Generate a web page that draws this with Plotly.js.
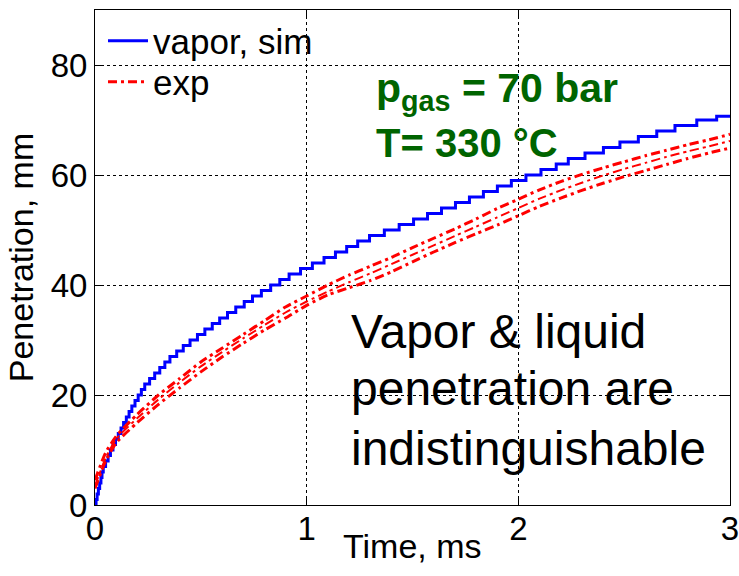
<!DOCTYPE html>
<html>
<head>
<meta charset="utf-8">
<script src="https://cdn.plot.ly/plotly-3.0.1.min.js"></script>
<style>html,body{margin:0;padding:0;background:#fff;}#chart{width:739px;height:576px;}</style>
</head>
<body>
<div id="chart"></div>
<script>
// Blue simulated vapor penetration: step times (ms) and levels (mm)
const simTime = [0, 0.005, 0.010, 0.016, 0.022, 0.028, 0.033, 0.039, 0.050, 0.062, 0.073, 0.085,
  0.097, 0.110, 0.123, 0.135, 0.148, 0.161, 0.174, 0.189, 0.204, 0.219, 0.235,
  0.258, 0.282, 0.306, 0.330, 0.354, 0.386, 0.417, 0.449, 0.484, 0.519, 0.554, 0.589,
  0.626, 0.665, 0.705, 0.744, 0.786, 0.830, 0.873, 0.917, 0.971, 1.027, 1.082,
  1.136, 1.189, 1.241, 1.297, 1.367, 1.437, 1.505, 1.571, 1.637, 1.703, 1.769, 1.835,
  1.901, 1.967, 2.036, 2.107, 2.179, 2.236, 2.315, 2.402, 2.480, 2.567, 2.654, 2.740,
  2.843, 2.937, 3.0];
const simPen = [0, 1, 2, 3, 4, 5, 6, 7, 8, 9, 10, 11, 12, 13, 14, 15, 16, 17, 18, 19, 20, 21, 22,
  23, 24, 25, 26, 27, 28, 29, 30, 31, 32, 33, 34, 35, 36, 37, 38, 39, 40, 41, 42, 43, 44, 45,
  46, 47, 48, 49, 50, 51, 52, 53, 54, 55, 56, 57, 58, 59, 60, 61, 62, 63, 64, 65, 66, 67, 68, 69,
  70, 70.7, 70.7];

// Experimental penetration (three realizations)
const expTime = [0, 0.05, 0.1, 0.2, 0.3, 0.4, 0.5, 0.6, 0.7, 0.8, 0.9, 1.0, 1.1, 1.2, 1.3, 1.4, 1.5,
  1.6, 1.7, 1.8, 1.9, 2.0, 2.1, 2.2, 2.3, 2.4, 2.5, 2.6, 2.7, 2.8, 2.9, 3.0];
const expA = [4.5, 9.5, 12.5, 16.5, 20, 23, 26, 28.5, 31, 33.5, 36, 38, 40, 41.8, 43.4, 45, 46.8,
  48.5, 50.2, 52, 53.9, 55.6, 57.3, 58.8, 60.1, 61.3, 62.4, 63.5, 64.5, 65.5, 66.4, 67.4];
const expB = [3.5, 8.5, 12, 15.8, 19.2, 22.3, 25.2, 27.8, 30.3, 32.7, 35, 37, 38.8, 40.5, 42.1, 43.8, 45.5,
  47.2, 48.9, 50.6, 52.3, 54, 55.7, 57.2, 58.6, 59.9, 61.1, 62.2, 63.3, 64.3, 65.2, 66.2];
const expC = [3, 8, 11.3, 15, 18.3, 21.3, 24.2, 26.9, 29.4, 31.8, 34, 36.3, 38.2, 39.5, 40.8, 42.4, 44.2,
  46, 47.7, 49.3, 50.9, 52.6, 54.3, 55.8, 57.2, 58.5, 59.7, 60.8, 61.9, 63, 64, 64.9];

const xTicks = [0, 1, 2, 3];
const yTicks = [0, 20, 40, 60, 80];

const FONT = 'Liberation Sans, Arial, Helvetica, sans-serif';
const redDash = '9px,4px,3px,4px';

const traces = [
  {x: simTime, y: simPen, type: 'scatter', mode: 'lines', name: 'vapor, sim', legend: 'legend',
   line: {color: '#0000ff', width: 3, shape: 'hv'}},
  {x: expTime, y: expA, type: 'scatter', mode: 'lines', name: 'exp', legend: 'legend2',
   line: {color: '#ff0000', width: 3, dash: redDash, shape: 'spline', smoothing: 0.6}},
  {x: expTime, y: expB, type: 'scatter', mode: 'lines', name: 'exp', showlegend: false,
   line: {color: '#ff0000', width: 2, dash: redDash, shape: 'spline', smoothing: 0.6}},
  {x: expTime, y: expC, type: 'scatter', mode: 'lines', name: 'exp', showlegend: false,
   line: {color: '#ff0000', width: 3, dash: redDash, shape: 'spline', smoothing: 0.6}}
];

const axisCommon = {
  showline: true, linecolor: '#000', linewidth: 1, mirror: 'ticks',
  ticks: 'inside', ticklen: 8, tickcolor: '#000', tickwidth: 1,
  showgrid: true, gridcolor: '#000', gridwidth: 1, griddash: 'dot',
  zeroline: false, automargin: false,
  tickfont: {family: FONT, size: 33, color: '#000'}
};

const legendCommon = {xanchor: 'left', yanchor: 'middle', bgcolor: 'rgba(0,0,0,0)',
  borderwidth: 0, font: {family: FONT, size: 35, color: '#000'}, itemwidth: 40};

const layout = {
  width: 739, height: 576,
  margin: {l: 95, r: 9, t: 10, b: 71},
  paper_bgcolor: '#fff', plot_bgcolor: '#fff',
  font: {family: FONT, color: '#000'},
  showlegend: true,
  legend: Object.assign({}, legendCommon, {x: 0.0126, y: (505 - 41) / 495}),
  legend2: Object.assign({}, legendCommon, {x: 0.0126, y: (505 - 82) / 495}),
  xaxis: Object.assign({}, axisCommon, {
    range: [0, 3], tickvals: xTicks, ticktext: xTicks.map(String),
    ticklabeloverflow: 'allow', ticklabelstandoff: -6
  }),
  yaxis: Object.assign({}, axisCommon, {
    range: [0, 90], tickvals: yTicks, ticktext: yTicks.map(String),
    title: {text: 'Penetration, mm', font: {family: FONT, size: 34, color: '#000'}, standoff: 6}
  }),
  annotations: [
    {x: 0.5, y: (505 - 546) / 495, xref: 'paper', yref: 'paper', xanchor: 'center', yanchor: 'middle',
     showarrow: false, text: 'Time, ms', font: {family: FONT, size: 34, color: '#000'}},
    {x: 1.2, y: 31.6, xref: 'x', yref: 'y', xanchor: 'left', yanchor: 'middle', align: 'left',
     showarrow: false, text: 'Vapor &amp; liquid',
     font: {family: FONT, size: 48, color: '#000'}},
    {x: 1.2, y: 21.2, xref: 'x', yref: 'y', xanchor: 'left', yanchor: 'middle', align: 'left',
     showarrow: false, text: 'penetration are',
     font: {family: FONT, size: 48, color: '#000'}},
    {x: 1.2, y: 10.3, xref: 'x', yref: 'y', xanchor: 'left', yanchor: 'middle', align: 'left',
     showarrow: false, text: 'indistinguishable',
     font: {family: FONT, size: 48, color: '#000'}},
    {x: 1.32, y: 75.3, xref: 'x', yref: 'y', xanchor: 'left', yanchor: 'middle', align: 'left',
     showarrow: false, text: '<b>p<sub>gas</sub> = 70 bar</b>',
     font: {family: FONT, size: 41, color: '#006400'}},
    {x: 1.32, y: 65.9, xref: 'x', yref: 'y', xanchor: 'left', yanchor: 'middle', align: 'left',
     showarrow: false, text: '<b>T= 330 °C</b>',
     font: {family: FONT, size: 40, color: '#006400'}}
  ]
};

Plotly.newPlot('chart', traces, layout, {displayModeBar: false, staticPlot: true});
</script>
</body>
</html>
